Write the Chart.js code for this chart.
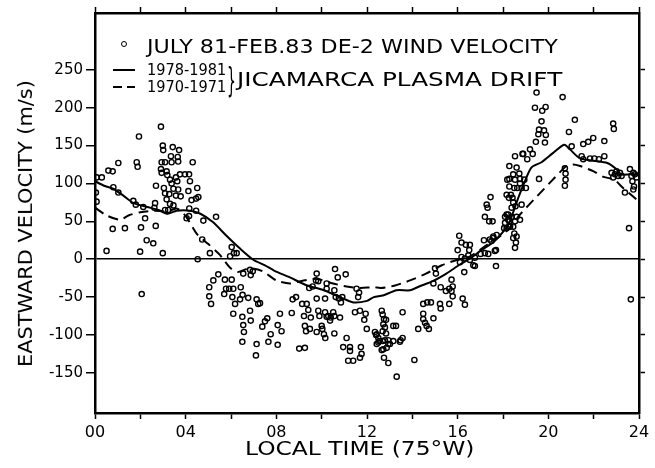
<!DOCTYPE html>
<html>
<head>
<meta charset="utf-8">
<script src="https://cdn.jsdelivr.net/npm/chart.js@4.4.1/dist/chart.umd.min.js"></script>
<style>
html, body { margin: 0; padding: 0; background: #fff; }
#wrap { position: relative; width: 655px; height: 468px; overflow: hidden; background: #fff; }
#wrap canvas { position: absolute; left: 0; top: 0; }
.txt { position: absolute; left: 0; top: 0; white-space: nowrap; font-family: 'DejaVu Sans', sans-serif; color: #000; line-height: 1; transform-origin: 0 0; }
.mark { position: absolute; box-sizing: border-box; }
</style>
</head>
<body>
<div id="wrap">
	<canvas id="mycanvas" width="655" height="468"></canvas>
	<span class="mark" id="legCircle" style="left:121px;top:41px;width:6px;height:6px;border:1.4px solid #000;border-radius:50%;"></span>
	<span class="mark" style="left:113px;top:69px;width:22px;height:0;border-top:2px solid #000;"></span>
	<span class="mark" style="left:113px;top:86px;width:9px;height:0;border-top:2px solid #000;"></span>
	<span class="mark" style="left:127px;top:86px;width:8px;height:0;border-top:2px solid #000;"></span>
	<div class="txt" id="t1">JULY 81-FEB.83 DE-2 WIND VELOCITY</div>
	<div class="txt" id="t2">1978-1981</div>
	<div class="txt" id="t3">1970-1971</div>
	<div class="txt" id="tb">}</div>
	<div class="txt" id="t4">JICAMARCA PLASMA DRIFT</div>
	<div class="txt" id="tx">LOCAL TIME (75°W)</div>
	<div class="txt" id="ty">EASTWARD VELOCITY (m/s)</div>
</div>
<script>
// DE-2 wind velocity (local time in hours, m/s)
var windHour = [
	0.07, 0.30, 0.04, 0.07, 0.59, 0.78, 1.03, 0.81, 1.03, 0.78, 1.32, 0.51, 1.94, 1.84, 1.88, 1.69, 1.80, 2.13, 2.03, 1.99,
	2.21, 2.28, 2.57, 2.68, 2.99, 2.91, 2.69, 2.65, 2.62, 2.06,
	2.99, 3.01, 3.43, 3.71, 2.94, 3.09, 3.35, 3.38, 3.65, 3.67, 4.31, 2.91, 2.94, 3.16, 3.19, 3.31, 3.57, 3.75, 3.97, 4.15,
	4.19, 3.38, 3.63, 3.04, 3.46, 3.67, 4.12, 4.51, 3.09, 3.28, 3.57, 3.78, 4.56, 4.46, 4.26, 3.16, 3.31, 3.09, 3.23, 3.46,
	4.16, 4.46, 4.04, 4.15, 4.78, 5.34, 4.73, 5.07, 4.53, 6.03, 5.96, 6.13, 6.25,
	6.84, 6.96, 6.54, 6.87, 5.44, 5.22, 5.73, 6.03, 5.04, 5.78, 5.92, 6.10, 6.43, 5.70, 6.06, 6.40, 6.51, 6.76, 7.13, 7.20,
	5.04, 5.12, 6.18, 6.10, 6.50, 6.84, 6.87, 6.54, 6.57, 6.50, 7.13, 7.10, 7.60, 7.50, 7.38, 7.75, 7.65, 8.06, 8.16, 8.06,
	8.23, 8.68, 8.72, 8.87, 9.01, 9.26, 9.14, 9.34, 9.41, 9.22, 9.52, 9.26, 9.31, 9.48, 9.78, 10.15, 9.45, 9.60, 9.78, 9.75,
	9.85, 10.59, 10.71, 11.06, 9.85, 9.90, 9.78, 10.03, 10.10, 10.16, 10.22, 10.40, 10.51, 10.56, 10.81, 10.56, 10.22, 10.56, 10.62, 10.76,
	10.91, 10.85, 11.10, 10.95, 11.25, 11.25, 11.73, 11.76, 11.69, 11.17, 11.39, 11.54, 11.65, 11.61, 11.47, 11.69, 11.94, 11.88, 11.99, 12.43,
	12.50, 7.28, 10.22, 10.15, 10.29, 10.37, 10.00,
	12.65, 12.69, 12.75, 12.72, 12.79, 12.69, 12.84, 12.35, 12.40, 12.50, 12.54, 12.43, 12.69, 12.79, 12.94, 13.16, 12.94, 12.87, 12.72, 13.01,
	13.16, 13.28, 13.48, 13.57, 12.75, 12.94, 13.31, 14.09, 13.57, 14.26, 14.48, 14.48, 14.56, 14.63, 14.73, 14.48, 14.66, 14.82, 14.93, 15.00,
	15.04, 14.93, 12.65, 12.84, 13.45,
	15.22, 15.25, 15.63, 16.22, 16.32, 15.25, 15.48, 15.63, 15.78, 15.73, 15.78, 15.73, 16.29, 16.76, 17.69, 16.00, 16.17, 16.10, 16.07, 16.17,
	16.36, 16.54, 16.51, 16.47, 16.76, 17.01, 17.20, 17.35, 17.16, 17.42, 17.57, 17.69, 17.20, 17.39, 17.54, 17.28, 17.32, 18.16, 18.23, 18.05,
	16.32, 16.54, 16.69, 17.64, 17.45, 17.72, 17.57, 17.49,
	18.09, 18.23, 18.38, 18.60, 18.75, 18.53, 18.28, 18.09, 18.31, 18.16, 18.45, 18.50, 18.60, 18.45, 18.57, 18.53, 18.16, 18.35, 18.26, 18.42,
	18.45, 18.55, 18.38, 18.82, 18.28, 18.50, 18.63, 18.82, 19.01, 18.45, 18.72, 18.75, 18.53, 18.28, 18.19, 18.94, 18.75, 19.59, 18.28, 18.60,
	18.53, 18.86, 19.19, 19.31, 18.89, 19.07, 19.45, 19.85, 19.59, 19.81, 19.89, 19.56, 19.70, 19.41, 19.73, 19.88, 19.48, 20.63, 20.91,
	20.73, 20.76, 20.76, 20.73, 21.17, 22.86, 22.89, 21.54, 21.76, 21.98, 22.47, 21.47, 21.54, 21.84, 22.03, 22.23, 22.47, 21.03, 22.79, 22.94,
	23.08, 23.01, 23.16, 23.23, 22.86, 23.60, 23.75, 23.67, 23.82, 23.89, 23.71, 23.78, 23.75, 23.38, 23.56, 23.64
];
var windVel = [
	108, 108, 88, 76, 117, 116, 127, 95, 88, 40, 41, 11, 162, 128, 122, 77, 72, 69, 42, 10,
	54, 25, 21, 44, 8, 175, 97, 74, 68, -46,
	150, 144, 148, 144, 128, 128, 136, 128, 135, 129, 128, 119, 114, 116, 111, 105, 108, 112, 112, 112,
	103, 100, 103, 94, 93, 92, 90, 94, 87, 86, 84, 83, 82, 80, 78, 79, 73, 65, 65, 71,
	67, 64, 54, 57, 51, 56, 26, 8, 0, 16, 4, 8, 8,
	-14, -16, -19, -21, -20, -28, -27, -27, -37, -39, -39, -39, -37, -46, -50, -53, -47, -51, -53, -59,
	-49, -59, -59, -72, -76, -68, -81, -87, -96, -109, -112, -127, -78, -82, -89, -99, -109, -113, -72, -87,
	-95, -71, -53, -50, -118, -117, -59, -59, -67, -75, -77, -88, -95, -92, -52, -52, -38, -36, -19, -28,
	-29, -13, -24, -20, -68, -75, -96, -92, -99, -104, -76, -77, -70, -75, -77, -98, -39, -41, -50, -52,
	-50, -57, -104, -116, -116, -121, -116, -125, -130, -134, -134, -39, -44, -50, -70, -68, -72, -80, -92, -99,
	-110, -58, -32, -70, -75, -81, -88,
	-68, -73, -79, -86, -90, -95, -98, -96, -100, -104, -108, -112, -108, -107, -107, -108, -112, -117, -119, -112,
	-88, -88, -107, -104, -130, -137, -155, -133, -70, -92, -72, -79, -84, -88, -92, -59, -57, -57, -78, -12,
	-19, -32, -120, -80, -109,
	-59, -65, -59, -52, -60, -37, -42, -39, -36, -42, -49, -27, -17, -9, -9, 12, 3, -4, 31, 22,
	19, 19, 12, 5, 2, 7, 8, 7, 25, 26, 28, 12, 56, 50, 50, 72, 68, 59, 52, 41,
	1, -1, -8, 11, 82, 32, 30, 24,
	56, 59, 56, 56, 52, 50, 50, 48, 43, 41, 43, 34, 30, 28, 22, 15, 85, 85, 81, 81,
	75, 70, 68, 72, 96, 94, 94, 94, 94, 112, 113, 106, 105, 106, 105, 105, 100, 106, 123, 121,
	136, 139, 145, 139, 139, 132, 155, 154, 171, 170, 164, 165, 182, 200, 196, 201, 220, 214, 168,
	120, 113, 105, 97, 184, 179, 172, 152, 155, 160, 156, 136, 132, 133, 133, 132, 136, 149, 114, 112,
	110, 116, 114, 110, 108, 119, 114, 110, 112, 108, 103, 96, 92, 88, 41, -53
];

// Jicamarca plasma drift 1978-1981 (solid)
var solidHour = [0, 0.4, 0.8, 1.25, 1.7, 2.3, 2.8, 3.2, 3.6, 4.2, 4.65, 5.2, 5.8, 6.4, 7.0, 7.5, 7.9, 8.6, 9.3, 10.1,
	10.8, 11.4, 12.0, 12.3, 12.7, 13.3, 13.9, 14.3, 14.9, 15.5, 16.1, 16.6, 17.0, 17.6, 18.0, 18.3, 18.6, 18.9, 19.25, 19.7,
	20.2, 20.7, 20.95, 21.4, 22.0, 22.6, 23.0, 23.2, 23.6, 24];
var solidVel = [103, 97, 93, 84, 74, 69, 65, 60, 64, 64, 60, 49, 31, 14, -1, -8, -15, -24, -34, -41,
	-50, -57, -55, -50, -48, -41, -41, -36, -29, -19, -7, 2, 11, 23, 36, 50, 75, 98, 121, 128,
	140, 151, 145, 133, 130, 127, 119, 112, 112, 112];

// Jicamarca plasma drift 1970-1971 (dashed)
var dashHour = [0, 0.5, 1.1, 1.5, 2.0, 2.6, 3.2, 3.6, 4.0, 4.5, 5.0, 5.5, 5.95, 6.3, 6.8, 7.4, 8.0, 8.6, 9.2, 9.8,
	10.5, 11.1, 11.7, 12.3, 12.6, 13.2, 13.9, 14.6, 15.3, 15.95, 16.5, 17.2, 17.9, 18.3, 18.75, 19.5, 20.2, 20.8, 21.1, 21.4,
	22.0, 22.4, 22.9, 23.3, 24];
var dashVel = [68, 58, 52, 58, 62, 64, 63, 67, 57, 33, 20, 6, -11, -17, -12, -16, -28, -32, -28, -26,
	-32, -36, -38, -37, -38, -35, -28, -19, -8, -1, 3, 17, 31, 41, 59, 83, 105, 123, 125, 123,
	116, 109, 105, 94, 76];

// axes
var xTickHours = [0, 2, 4, 6, 8, 10, 12, 14, 16, 18, 20, 22, 24];
var xLabelHours = [0, 4, 8, 12, 16, 20, 24];
var xTickLabels = ['00', '04', '08', '12', '16', '20', '24'];
var yTickValues = [-150, -100, -50, 0, 50, 100, 150, 200, 250];
var yTickLabels = ['-150', '-100', '-50', '0', '50', '100', '150', '200', '250'];

function toPts(xs, ys) {
	var out = [];
	for (var i in xs) {
		out.push({x: xs[i], y: ys[i]});
	}
	return out;
}

function setXTicks(scale) { scale.ticks = xTickHours.map(function(v){ return {value: v}; }); }
function setYTicks(scale) { scale.ticks = yTickValues.map(function(v){ return {value: v}; }); }

var tickFont = {family: "'DejaVu Sans', sans-serif", size: 16};

var ctx = document.getElementById('mycanvas');
var chart = new Chart(ctx, {
	type: 'scatter',
	data: {
		datasets: [
			{
				label: 'JULY 81-FEB.83 DE-2 WIND VELOCITY',
				data: toPts(windHour, windVel),
				showLine: false,
				pointRadius: 2.6,
				pointBorderWidth: 1.4,
				pointBorderColor: '#000',
				pointBackgroundColor: 'rgba(0,0,0,0)'
			},
			{
				label: '1978-1981',
				data: toPts(solidHour, solidVel),
				showLine: true,
				borderColor: '#000',
				borderWidth: 2,
				pointRadius: 0,
				tension: 0.25,
				fill: false
			},
			{
				label: '1970-1971',
				data: toPts(dashHour, dashVel),
				showLine: true,
				borderColor: '#000',
				borderWidth: 2,
				borderDash: [10, 6],
				pointRadius: 0,
				tension: 0.25,
				fill: false
			}
		]
	},
	options: {
		responsive: false,
		animation: false,
		devicePixelRatio: 1,
		layout: {padding: 0},
		plugins: {legend: {display: false}, tooltip: {enabled: false}},
		scales: {
			x: {
				type: 'linear', position: 'bottom', min: 0, max: 24,
				afterBuildTicks: setXTicks,
				afterFit: function(s){ s.height = 55; },
				grid: {drawOnChartArea: false, drawTicks: true, tickLength: 6, tickColor: '#000', tickWidth: 1.5},
				border: {display: true, color: '#000', width: 2.5},
				ticks: {
					font: tickFont, color: '#000', padding: 4, maxRotation: 0, autoSkip: false,
					callback: function(v){ var i = xLabelHours.indexOf(v); return i >= 0 ? xTickLabels[i] : ''; }
				}
			},
			x2: {
				type: 'linear', axis: 'x', position: 'top', min: 0, max: 24,
				afterBuildTicks: setXTicks,
				afterFit: function(s){ s.height = 13; },
				grid: {drawOnChartArea: false, drawTicks: true, tickLength: 6, tickColor: '#000', tickWidth: 1.5},
				border: {display: true, color: '#000', width: 2.5},
				ticks: {display: false}
			},
			y: {
				type: 'linear', position: 'left', min: -203, max: 325,
				afterBuildTicks: setYTicks,
				afterFit: function(s){ s.width = 95; },
				grid: {
					drawOnChartArea: true, drawTicks: true, tickLength: 9, tickWidth: 1.5, tickColor: '#000', lineWidth: 1.5,
					color: function(c){ return (c.tick && c.tick.value === 0) ? '#000' : 'rgba(0,0,0,0)'; }
				},
				border: {display: true, color: '#000', width: 2.5},
				ticks: {
					font: {family: "'DejaVu Sans', sans-serif", size: 15}, color: '#000', padding: 3,
					callback: function(v){ var i = yTickValues.indexOf(v); return i >= 0 ? yTickLabels[i] : ''; }
				}
			},
			y2: {
				type: 'linear', axis: 'y', position: 'right', min: -203, max: 325,
				afterBuildTicks: setYTicks,
				afterFit: function(s){ s.width = 16; },
				grid: {drawOnChartArea: false, drawTicks: true, tickLength: 6, tickColor: '#000', tickWidth: 1.5},
				border: {display: true, color: '#000', width: 2.5},
				ticks: {display: false}
			}
		}
	}
});

// text placed over the chart: stretched to the widths measured on the picture
function place(id, size, left, baseline, width) {
	var el = document.getElementById(id);
	el.style.fontSize = size + 'px';
	var w = el.offsetWidth;
	var top = baseline - 0.846 * size;
	el.style.transform = 'translate(' + left + 'px,' + top + 'px) scaleX(' + (width / w) + ')';
}
function placeVertical(id, size, baselineX, startY, length) {
	var el = document.getElementById(id);
	el.style.fontSize = size + 'px';
	var w = el.offsetWidth;
	var tx = baselineX - 0.846 * size;
	el.style.transform = 'translate(' + tx + 'px,' + startY + 'px) rotate(-90deg) scaleX(' + (length / w) + ')';
}

place('t1', 20, 147, 53, 411);
place('t2', 16, 147, 76, 79);
place('t3', 16, 147, 93, 79);
place('tb', 34, 227, 92, 9);
place('t4', 20, 237, 86, 325);
place('tx', 20, 245, 455, 230);
placeVertical('ty', 19, 32, 367, 287);
</script>
</body>
</html>
